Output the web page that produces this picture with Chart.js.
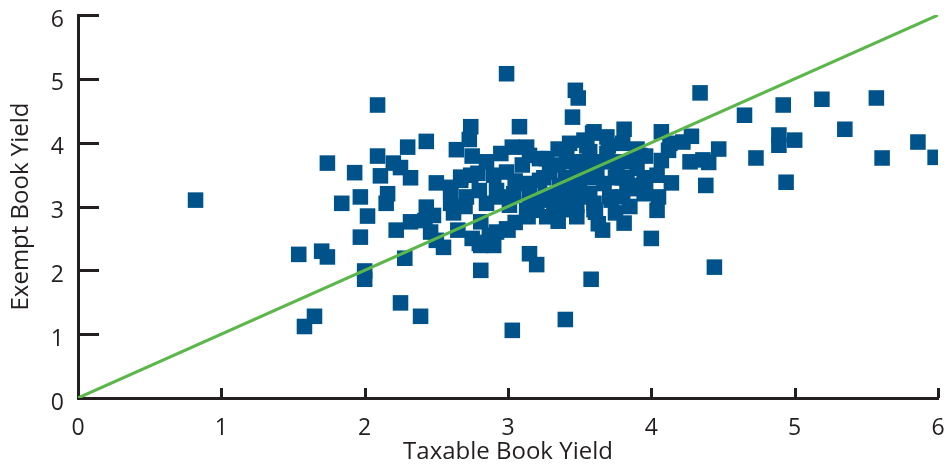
<!DOCTYPE html>
<html>
<head>
<meta charset="utf-8">
<script src="https://cdn.jsdelivr.net/npm/chart.js@4/dist/chart.umd.min.js"></script>
<style>
html,body{margin:0;padding:0;background:#fff;}
#wrap{width:944px;height:464px;}
</style>
</head>
<body>
<div id="wrap"><canvas id="c" width="944" height="464"></canvas></div>
<script>
// Taxable book yield (x) and exempt book yield (y), one entry per bank
const taxableYield = [
0.82,1.54,1.70,1.74,1.65,1.58,1.74,1.93,2.09,2.11,2.20,2.25,2.32,2.30,2.43,2.09,1.84,1.97,2.16,2.15,
2.02,1.97,2.22,2.00,2.00,2.28,2.25,2.39,2.50,2.43,2.32,2.42,2.48,2.46,2.50,2.55,2.64,2.74,2.73,2.75,
2.60,2.67,2.62,2.65,2.81,2.81,2.99,3.47,3.49,3.45,3.08,4.07,3.81,3.59,3.15,3.20,3.58,3.40,3.03,4.00,
3.81,4.04,3.66,3.63,3.35,3.48,3.14,3.00,2.86,4.34,4.65,4.92,5.19,5.57,5.35,5.86,5.98,5.61,4.89,5.00,
4.89,4.73,4.94,4.47,4.40,4.38,4.44,4.05,4.28,4.22,4.13,4.12,3.96,4.07,4.27,4.36,4.04,4.14,3.96,3.03,
3.13,2.95,3.22,2.60,2.67,2.74,2.79,2.90,2.99,2.80,2.71,2.92,3.04,3.13,3.22,3.24,3.13,3.01,2.81,2.99,
2.87,2.80,2.90,3.20,3.60,3.43,3.53,3.69,3.80,3.27,3.41,3.57,3.69,3.92,3.29,3.48,3.62,3.76,3.90,3.36,
3.50,3.67,3.83,3.92,3.26,3.42,3.57,3.71,3.85,3.32,3.48,3.72,3.27,3.61,2.85,2.60,3.05,2.85,3.10,2.95,
2.92,2.75,3.35,3.55,3.75,3.40,3.60,3.80,3.15,3.40,3.60,3.85,3.05,2.70,
3.15,3.35,3.55,3.70,3.45,3.65,3.85,3.25,3.55,3.75,3.95,3.15,3.35,3.50,3.80,3.95,3.40,3.60,3.75,3.20,
3.90,3.60
];
const exemptYield = [
3.10,2.25,2.30,2.21,1.28,1.12,3.68,3.53,3.79,3.48,3.68,3.61,3.45,3.93,4.02,4.59,3.05,3.15,3.20,3.05,
2.85,2.52,2.63,1.99,1.86,2.19,1.49,1.28,3.37,2.99,2.76,2.78,2.86,2.60,2.47,2.36,3.89,4.25,4.05,3.79,
3.30,3.46,2.90,2.63,2.00,2.39,5.08,4.82,4.70,4.40,4.25,4.17,4.21,4.15,2.26,2.09,1.86,1.23,1.06,2.50,
2.74,2.94,2.63,2.73,2.77,2.84,2.84,2.63,2.44,4.78,4.43,4.59,4.68,4.70,4.21,4.01,3.77,3.76,4.12,4.04,
3.96,3.76,3.38,3.90,3.69,3.33,2.05,3.15,4.10,4.01,3.99,3.88,3.79,3.72,3.70,3.73,3.49,3.37,3.38,3.93,
3.93,3.83,3.75,3.23,3.41,3.49,3.52,3.49,3.54,3.25,3.15,3.25,3.20,3.36,3.41,3.10,2.94,3.02,2.76,2.65,
2.55,2.42,2.39,2.94,4.17,3.99,4.04,4.09,3.99,3.75,3.78,3.86,3.83,3.80,3.54,3.60,3.52,3.57,3.60,3.33,
3.38,3.36,3.38,3.33,3.18,3.23,3.20,3.15,3.28,2.99,3.02,3.10,2.84,2.91,3.05,3.05,3.40,3.70,3.65,3.15,
2.60,2.50,3.65,3.70,3.70,3.45,3.45,3.45,3.05,3.10,3.05,3.00,2.75,3.00,
3.80,3.90,3.95,3.95,3.70,3.70,3.70,3.45,3.50,3.45,3.45,3.25,3.20,3.15,3.15,3.20,2.95,2.95,2.90,3.05,
3.90,3.60
];
const parityLineX = [0, 6];
const parityLineY = [0, 6];
const axisTicks = [0, 1, 2, 3, 4, 5, 6];
const xTitle = 'Taxable Book Yield';
const yTitle = 'Exempt Book Yield';

const points = taxableYield.map((x, i) => ({x: x, y: exemptYield[i]}));
const parity = parityLineX.map((x, i) => ({x: x, y: parityLineY[i]}));

const AXIS_COLOR = '#231f20';
const FONT = "'Open Sans', sans-serif";

const innerTicks = {
  id: 'innerTicks',
  afterDraw(chart) {
    const ctx = chart.ctx, xs = chart.scales.x, ys = chart.scales.y;
    const left = chart.chartArea.left, bottom = chart.chartArea.bottom;
    ctx.save();
    ctx.strokeStyle = AXIS_COLOR;
    ctx.lineWidth = 3;
    ctx.beginPath();
    axisTicks.forEach(v => {
      if (v === 0) return;
      const py = Math.round(ys.getPixelForValue(v)) + 0.5;
      ctx.moveTo(left, py); ctx.lineTo(left + 21, py);
      const px = Math.round(xs.getPixelForValue(v)) + 0.5;
      ctx.moveTo(px, bottom); ctx.lineTo(px, bottom - 10);
    });
    ctx.stroke();
    ctx.restore();
  }
};

new Chart(document.getElementById('c'), {
  type: 'scatter',
  data: {
    datasets: [
      {
        type: 'line',
        data: parity,
        borderColor: '#5bb74a',
        borderWidth: 3,
        pointRadius: 0,
        fill: false,
        order: 0
      },
      {
        data: points,
        pointStyle: 'rect',
        pointRadius: 11,
        pointHoverRadius: 11,
        backgroundColor: '#00538a',
        borderWidth: 0,
        order: 1
      }
    ]
  },
  options: {
    responsive: false,
    devicePixelRatio: 1,
    animation: false,
    events: [],
    layout: { autoPadding: false, padding: { top: 15, right: 6, left: 0, bottom: 0 } },
    plugins: { legend: { display: false }, tooltip: { enabled: false } },
    scales: {
      x: {
        type: 'linear', min: 0, max: 6,
        afterFit(s) { s.height = 66; s.paddingLeft = 0; s.paddingRight = 0; },
        afterBuildTicks(s) { s.ticks = axisTicks.map(v => ({value: v})); },
        grid: { display: false, drawTicks: false },
        border: { display: true, color: AXIS_COLOR, width: 3 },
        ticks: { color: AXIS_COLOR, font: { family: FONT, size: 23 }, padding: 17, maxRotation: 0 },
        title: { display: true, text: xTitle, color: AXIS_COLOR, font: { family: FONT, size: 24, lineHeight: 1 }, padding: { top: 0, bottom: 0 } }
      },
      y: {
        type: 'linear', min: 0, max: 6,
        afterFit(s) { s.width = 78; s.paddingTop = 0; s.paddingBottom = 0; },
        afterBuildTicks(s) { s.ticks = axisTicks.map(v => ({value: v})); },
        grid: { display: false, drawTicks: false },
        border: { display: true, color: AXIS_COLOR, width: 3 },
        ticks: { color: AXIS_COLOR, font: { family: FONT, size: 23 }, padding: 14, labelOffset: 5 },
        title: { display: true, text: yTitle, color: AXIS_COLOR, font: { family: FONT, size: 24, lineHeight: 1 }, padding: { top: 9, bottom: 0 } }
      }
    }
  },
  plugins: [innerTicks]
});
</script>
</body>
</html>
